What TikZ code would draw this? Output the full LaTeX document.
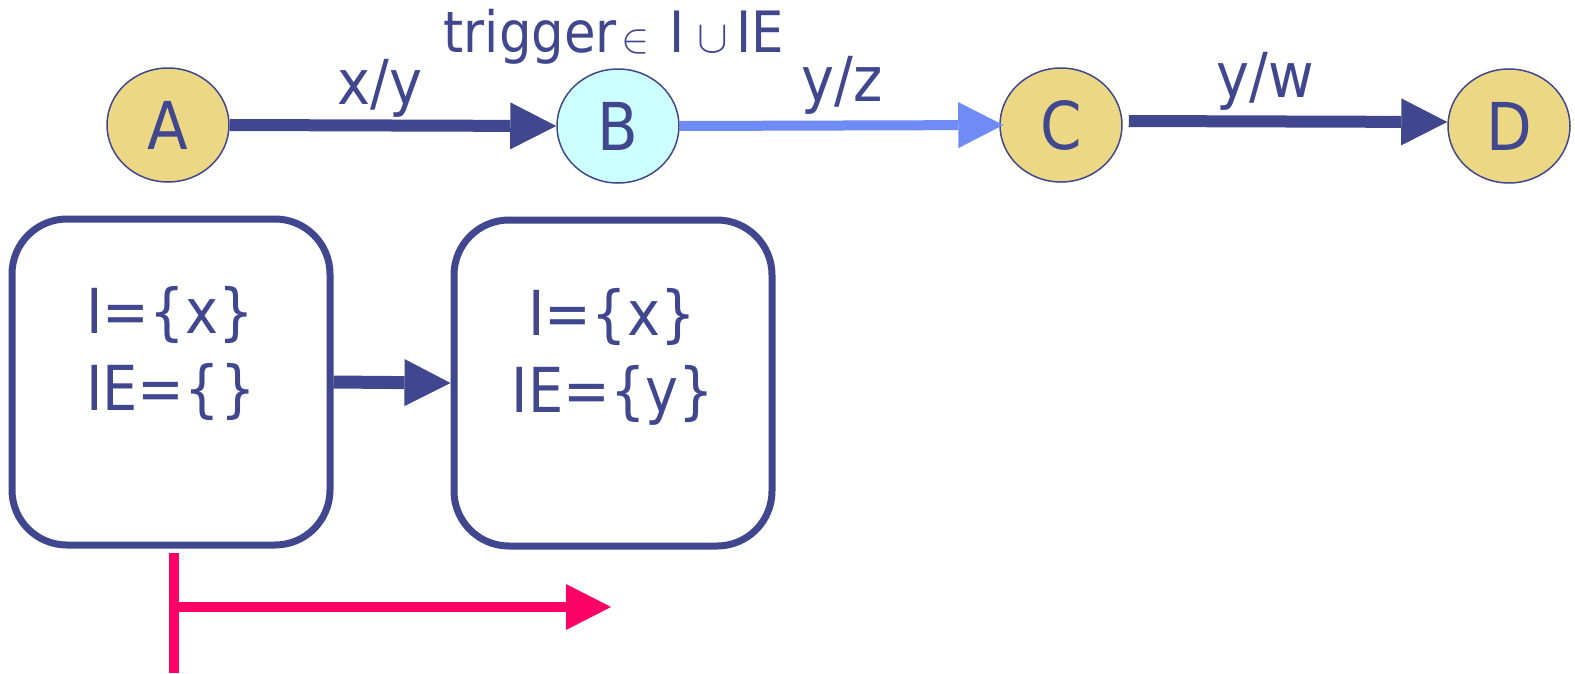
\RequirePackage{fix-cm}
\documentclass[tikz,border=0pt]{standalone}
\usepackage{fontspec}
\setmainfont{DejaVu Sans Condensed}
\usetikzlibrary{arrows.meta,shapes.geometric}
\definecolor{navy}{RGB}{64,71,143}
\definecolor{sand}{RGB}{235,215,132}
\definecolor{paleCyan}{RGB}{204,255,255}
\definecolor{lightBlue}{RGB}{111,139,245}
\definecolor{hotPink}{RGB}{255,0,102}
\tikzset{
  state/.style={ellipse,draw=navy,line width=1.5pt,minimum width=122pt,minimum height=114pt,inner sep=0pt,text=navy,font=\fontsize{66}{70}\selectfont},
  conn/.style={line width=12pt,draw=navy,-{Triangle[length=46pt,width=47pt,line width=0pt]}},
  lbl/.style={text=navy,anchor=base,inner sep=0pt,font=\fontsize{62}{66}\selectfont},
  boxtxt/.style={text=navy,anchor=base,inner sep=0pt,font=\fontsize{62}{66}\selectfont},
  setbox/.style={draw=navy,line width=7pt,rounded corners=55pt,minimum width=318pt,minimum height=326pt,inner sep=0pt}
}
\begin{document}
\begin{tikzpicture}[x=1pt,y=-1pt]
\useasboundingbox (0,0) rectangle (1575,673);
% states
\node[state,fill=sand] (A) at (168,125) {A};
\node[state,fill=paleCyan] (B) at (618,126) {B};
\node[state,fill=sand] (C) at (1061,125) {C};
\node[state,fill=sand] (D) at (1509,126) {D};
% transitions
\draw[conn] (A.east) -- (B.west);
\draw[conn,draw=lightBlue,line width=10pt,-{Triangle[length=45pt,width=46pt,line width=0pt]}] (B.east) -- ([xshift=4pt]C.west);
\draw[conn] ([xshift=6pt,yshift=4pt]C.east) -- ([yshift=4pt]D.west);
% labels
\node[lbl] (lxy) at (380,104) {x/y};
\node[lbl] (lyz) at (842,101) {y/z};
\node[lbl] (lyw) at (1265,97) {y/w};
\node[text=navy,anchor=base,inner sep=0pt,font=\fontsize{57}{60}\selectfont] (trig) at (614,52) {trigger\hspace{5pt}{\fontsize{42}{46}\selectfont$\in$}\hspace{20pt}I\hspace{12pt}{\fontsize{46}{50}\selectfont$\cup$}\hspace{9pt}IE};
% boxes
\node[setbox] (box1) at (171,382) {};
\node[setbox] (box2) at (613,383) {};
\node[boxtxt] (t1a) at (170,333) {I=\{x\}};
\node[boxtxt] (t1b) at (171,410) {IE=\{\}};
\node[boxtxt] (t2a) at (612,335) {I=\{x\}};
\node[boxtxt] (t2b) at (613,412) {IE=\{y\}};
\draw[conn,line width=13pt] (box1.east) -- (box2.west);
% pink timeline
\coordinate (p1) at (174,553);
\coordinate (p2) at (174,673);
\coordinate (p3) at (174,607);
\coordinate (p4) at (611,607);
\draw[hotPink,line width=10pt] (p1) -- (p2);
\draw[hotPink,line width=10pt,-{Triangle[length=45pt,width=46pt,line width=0pt]}] (p3) -- (p4);
\end{tikzpicture}
\end{document}
